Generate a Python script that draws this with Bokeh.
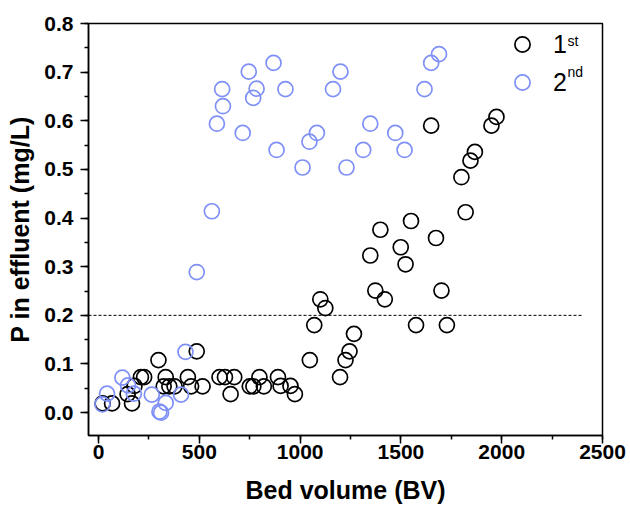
from bokeh.plotting import figure
from bokeh.models import (SingleIntervalTicker, Legend, LegendItem, Label, Range1d,
                          PrintfTickFormatter)
from bokeh.embed import file_html
from bokeh.resources import INLINE

# ---- data ----
bv_1st = [20, 67, 166, 144, 178, 210, 226, 297, 333, 323, 351, 377, 443, 459, 487, 516,
          600, 627, 673, 655, 750, 768, 798, 820, 890, 903, 952, 974,
          1048, 1070, 1100, 1125, 1198, 1225, 1245, 1267, 1348, 1373, 1398, 1420,
          1499, 1523, 1550, 1575, 1650, 1674, 1701, 1728, 1800, 1821, 1845, 1867,
          1949, 1974]
p_1st = [0.019, 0.019, 0.019, 0.038, 0.055, 0.073, 0.073, 0.108, 0.073, 0.054, 0.054,
         0.054, 0.073, 0.054, 0.126, 0.054,
         0.073, 0.073, 0.073, 0.038, 0.054, 0.054, 0.073, 0.054, 0.073, 0.055, 0.055,
         0.038,
         0.108, 0.180, 0.233, 0.215, 0.073, 0.108, 0.126, 0.162, 0.323, 0.251, 0.376,
         0.233, 0.340, 0.305, 0.394, 0.180, 0.590, 0.359, 0.251, 0.180, 0.484, 0.412,
         0.518, 0.536, 0.590, 0.608]

bv_2nd = [19, 42, 118, 146, 175, 264, 302, 310, 333, 409, 431, 487, 562, 587, 613, 617,
          715, 745, 767, 784, 868, 883, 927, 1012, 1046, 1083, 1163, 1200, 1230, 1313,
          1348, 1472, 1518, 1617, 1650, 1689]
p_2nd = [0.017, 0.039, 0.072, 0.056, 0.039, 0.037, 0.002, 0.000, 0.020, 0.037, 0.125,
         0.289, 0.414, 0.594, 0.665, 0.630, 0.575, 0.701, 0.647, 0.666, 0.719, 0.540,
         0.665, 0.504, 0.557, 0.575, 0.665, 0.701, 0.504, 0.540, 0.594, 0.575, 0.540,
         0.665, 0.719, 0.737]

series_labels = ["1", "2"]
series_sups = ["st", "nd"]
series_colors = ["black", "#7f90f7"]

limit_bv = [-50, 2400]
limit_p = [0.2, 0.2]

x_limits = (-50, 2500)
y_limits = (-0.047, 0.8)

# ---- figure ----
p = figure(width=630, height=512,
           x_range=Range1d(*x_limits), y_range=Range1d(*y_limits),
           output_backend="svg", toolbar_location=None,
           min_border_left=88, min_border_right=28,
           min_border_top=23, min_border_bottom=77)
p.grid.visible = False
p.outline_line_color = "black"
p.outline_line_width = 1.5
p.background_fill_color = "white"
p.border_fill_color = "white"

FONT = "Liberation Sans"

p.xaxis.ticker = SingleIntervalTicker(interval=500, num_minor_ticks=2)
p.yaxis.ticker = SingleIntervalTicker(interval=0.1, num_minor_ticks=2)
p.yaxis.formatter = PrintfTickFormatter(format="%.1f")

for ax in (p.xaxis[0], p.yaxis[0]):
    ax.axis_line_color = "black"
    ax.axis_line_width = 1.5
    ax.major_tick_line_color = "black"
    ax.major_tick_line_width = 1.5
    ax.major_tick_out = 8
    ax.major_tick_in = 0
    ax.minor_tick_line_color = "black"
    ax.minor_tick_line_width = 1.5
    ax.minor_tick_out = 4
    ax.minor_tick_in = 0
    ax.major_label_text_font = FONT
    ax.major_label_text_font_style = "bold"
    ax.major_label_text_font_size = "21px"
    ax.major_label_text_color = "black"
    ax.axis_label_text_font = FONT
    ax.axis_label_text_font_style = "bold"
    ax.axis_label_text_font_size = "25px"
    ax.axis_label_text_color = "black"

p.xaxis.axis_label = "Bed volume (BV)"
p.yaxis.axis_label = "P in effluent (mg/L)"
p.xaxis.major_label_standoff = 1
p.xaxis.axis_label_standoff = 14
p.yaxis.major_label_standoff = 7
p.yaxis.axis_label_standoff = 7

# threshold line
p.line(limit_bv, limit_p, line_color="black", line_width=1, line_dash="3 2")

r1 = p.scatter(bv_1st, p_1st, marker="circle", size=15, fill_color=None,
               line_color=series_colors[0], line_width=1.7)
r2 = p.scatter(bv_2nd, p_2nd, marker="circle", size=15, fill_color=None,
               line_color=series_colors[1], line_width=1.7)

legend = Legend(items=[LegendItem(label=series_labels[0], renderers=[r1]),
                       LegendItem(label=series_labels[1], renderers=[r2])],
                location=(415, 334),
                border_line_color=None, background_fill_alpha=0,
                padding=0, margin=0, spacing=-7,
                glyph_width=38, glyph_height=38, label_standoff=12,
                label_text_font=FONT, label_text_font_size="25px",
                label_text_color="black", label_height=38)
p.add_layout(legend)

sup_x = [2326, 2326]
sup_y = [0.763, 0.700]
for t, xx, yy in zip(series_sups, sup_x, sup_y):
    p.add_layout(Label(x=xx, y=yy, text=t, text_font=FONT, text_font_size="14px",
                       text_baseline="alphabetic", text_color="black"))

open("out.html", "w").write(file_html(p, INLINE))
